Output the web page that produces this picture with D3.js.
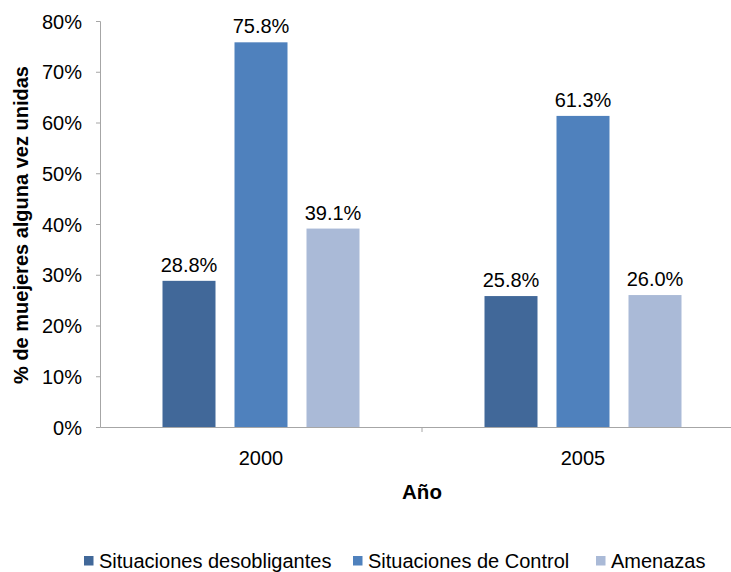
<!DOCTYPE html>
<html><head><meta charset="utf-8">
<script src="https://cdn.jsdelivr.net/npm/d3@7"></script>
<style>body{margin:0;background:#fff}svg{display:block}text{font-family:"Liberation Sans",Arial,sans-serif;fill:#000}</style>
</head><body>
<script>
const years = ["2000", "2005"];
const seriesNames = ["Situaciones desobligantes", "Situaciones de Control", "Amenazas"];
const desobligantes = [28.8, 25.8];
const control = [75.8, 61.3];
const amenazas = [39.1, 26.0];
const yTicks = [0, 10, 20, 30, 40, 50, 60, 70, 80];
const colors = ["#416899", "#4F81BD", "#AABAD7"];
const seriesValues = [desobligantes, control, amenazas];

const W = 731, H = 572;
const FS = 20;
const svg = d3.select("body").append("svg").attr("width", W).attr("height", H);
const mLeft = 100, mRight = 744, mTop = 21, mBottom = 427;

const x = d3.scaleBand().domain(years).range([mLeft, mRight]);
const y = d3.scaleLinear().domain([0, 80]).range([mBottom, mTop]);
const inner = d3.scaleBand().domain(d3.range(3)).range([0, 197]).paddingInner(19/72).paddingOuter(0);

// y axis
const yAxis = svg.append("g").attr("transform", `translate(${mLeft},0)`)
  .call(d3.axisLeft(y).tickValues(yTicks).tickSize(4).tickFormat(d => d + "%"));
yAxis.select(".domain").attr("stroke", "#a6a6a6");
yAxis.selectAll(".tick line").attr("stroke", "#a6a6a6");
yAxis.selectAll(".tick text").attr("font-size", FS).attr("x", -18).attr("dy", "0.36em")
  .style("font-family", "Liberation Sans, Arial, sans-serif").attr("fill", "#000");

// x axis
const xAxis = svg.append("g").attr("transform", `translate(0,${mBottom})`)
  .call(d3.axisBottom(x).tickSize(0).tickFormat(d => d));
xAxis.select(".domain").attr("stroke", "#a6a6a6");
xAxis.selectAll(".tick text").attr("font-size", FS).attr("y", 38).attr("dy", "0")
  .style("font-family", "Liberation Sans, Arial, sans-serif").attr("fill", "#000");
// category separator tick
svg.append("g").selectAll("line").data([x("2005")]).join("line")
  .attr("x1", d => d).attr("x2", d => d).attr("y1", mBottom).attr("y2", mBottom + 5)
  .attr("stroke", "#a6a6a6");

// bars
seriesValues.forEach((vals, si) => {
  const g = svg.append("g");
  g.selectAll("rect").data(vals).join("rect")
    .attr("x", (d, i) => x(years[i]) + (x.bandwidth() - 197) / 2 + inner(si))
    .attr("width", inner.bandwidth())
    .attr("y", d => y(d))
    .attr("height", d => mBottom - y(d))
    .attr("fill", colors[si]);
  g.selectAll("text").data(vals).join("text")
    .attr("x", (d, i) => x(years[i]) + (x.bandwidth() - 197) / 2 + inner(si) + inner.bandwidth() / 2)
    .attr("y", d => y(d) - 9)
    .attr("text-anchor", "middle").attr("font-size", FS)
    .text(d => d.toFixed(1) + "%");
});

// axis titles
svg.append("text").attr("x", 422).attr("y", 499).attr("text-anchor", "middle")
  .attr("font-size", 20.5).attr("font-weight", "bold").text("Año");
svg.append("text").attr("transform", `translate(28,225) rotate(-90)`).attr("text-anchor", "middle")
  .attr("font-size", 20).attr("font-weight", "bold").text("% de muejeres alguna vez unidas");

// legend
const legX = [84, 353, 596];
const leg = svg.append("g").selectAll("g").data(seriesNames).join("g")
  .attr("transform", (d, i) => `translate(${legX[i]},0)`);
leg.append("rect").attr("x", 0).attr("y", 556).attr("width", 9.5).attr("height", 9.5)
  .attr("fill", (d, i) => colors[i]);
leg.append("text").attr("x", 15).attr("y", 568).attr("font-size", FS).text(d => d);
</script>
</body></html>
